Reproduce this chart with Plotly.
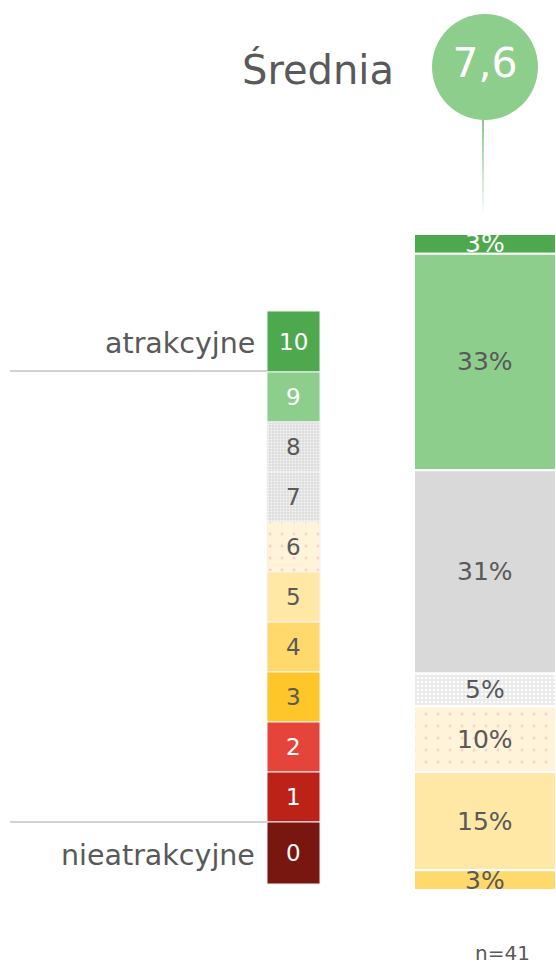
import plotly.graph_objects as go

# ---------------- data ----------------
scores = [10, 9, 8, 7, 6, 5, 4, 3, 2, 1, 0]
shares = [3, 33, 31, 5, 10, 15, 3, 0, 0, 0, 0]
n_resp = 41
mean_label = "Średnia"
top_label = "atrakcyjne"
bottom_label = "nieatrakcyjne"

# ---------------- styles ----------------
colors = {10: "#4EA94E", 9: "#8DCE8D", 8: "#D9D9D9", 7: "#EAEAEA", 6: "#FFF3DA",
          5: "#FFE8A5", 4: "#FFD96B", 3: "#FFC62A", 2: "#E4443A", 1: "#BD2219", 0: "#781610"}
legend_colors = dict(colors)
legend_colors[8] = "#DDDDDD"
legend_colors[7] = "#DEDEDE"
bar_pattern = {7: ("#FFFFFF", 4, 0.3), 6: ("#F6D2C8", 12, 0.05)}
leg_pattern = {8: ("#F7F7F7", 3, 0.3), 7: ("#F7F7F7", 3, 0.3), 6: ("#F6D2C8", 12, 0.05)}
white_text = {10, 9, 2, 1, 0}
GREY = "#595959"
FONT = "DejaVu Sans"

W, H = 556, 967
# bar pixel geometry
BL, BR, BT, BB = 414, 556, 234, 890
ppx = BR - BL
ppy = (BB - BT) / 100.0
x_range = [-0.5 - BL / ppx, 0.5 + (W - BR) / ppx]
y_range = [-(H - BB) / ppy, 100 + BT / ppy]


def px_to_x(p):
    return -0.5 + (p - BL) / ppx


def py_to_y(p):
    return 100 - (p - BT) / ppy


def pattern_for(spec, bg):
    if spec is None:
        return dict(shape="")
    fg, size, sol = spec
    return dict(shape=".", fgcolor=fg, bgcolor=bg, size=size, solidity=sol,
                fillmode="replace")


fig = go.Figure()

# ---- main stacked bar ----
base_of = {}
acc = 0
for s, v in zip(reversed(scores), reversed(shares)):
    base_of[s] = acc
    acc += v

for s, v in zip(scores, shares):
    if v <= 0:
        continue
    fig.add_trace(go.Bar(
        x=[0], y=[v], base=[base_of[s]], width=1,
        marker=dict(color=colors[s], line=dict(color="white", width=2),
                    pattern=pattern_for(bar_pattern.get(s), colors[s])),
        hoverinfo="skip", showlegend=False,
    ))
    fig.add_annotation(x=0, y=base_of[s] + v / 2, xref="x", yref="y",
                       text=f"{v}%", showarrow=False,
                       font=dict(family=FONT, size=25,
                                 color="white" if s == 10 else GREY))

# ---- legend column (score scale) ----
LCX = px_to_x(293.5)
LW = 53 / ppx
cell_h = {s: (1.22 if s == 10 else 1.24 if s == 0 else 1.0) for s in scores}
leg_base = {}
acc = 0
for s in reversed(scores):
    leg_base[s] = acc
    acc += cell_h[s]
CELL = 50.0
LB = 884
y2_range = [-(H - LB) / CELL, LB / CELL]

for s in scores:
    fig.add_trace(go.Bar(
        x=[LCX], y=[cell_h[s]], base=[leg_base[s]], width=LW, yaxis="y2",
        marker=dict(color=legend_colors[s], line=dict(color="#F4F4F4", width=1),
                    pattern=pattern_for(leg_pattern.get(s), legend_colors[s])),
        hoverinfo="skip", showlegend=False,
    ))
    fig.add_annotation(x=LCX, y=leg_base[s] + cell_h[s] / 2, xref="x", yref="y2",
                       text=str(s), showarrow=False,
                       font=dict(family=FONT, size=23,
                                 color="white" if s in white_text else GREY))

# ---- mean bubble ----
mean_val = sum(s * v for s, v in zip(scores, shares)) / sum(shares)
mean_txt = f"{mean_val:.1f}".replace(".", ",")
CY = py_to_y(67)
fig.add_trace(go.Scatter(
    x=[0], y=[CY], mode="markers+text", text=[mean_txt],
    textposition="middle center",
    textfont=dict(family=FONT, size=41, color="white"),
    marker=dict(size=106, color="#8DCE8D", line=dict(width=0)),
    cliponaxis=False, hoverinfo="skip", showlegend=False,
))
# fading stem
y_top = py_to_y(120)
y_bot = py_to_y(212)
nseg = 14
for i in range(nseg):
    ya = y_top + (y_bot - y_top) * i / nseg
    yb = y_top + (y_bot - y_top) * (i + 1) / nseg
    op = 1 - i / nseg
    fig.add_shape(type="line", xref="x", yref="y", x0=px_to_x(483), x1=px_to_x(483),
                  y0=ya, y1=yb, line=dict(color=f"rgba(100,185,100,{op:.2f})", width=1.5))

fig.add_annotation(x=396 / W, y=1 - 70 / H, xref="paper", yref="paper",
                   xanchor="right", yanchor="middle", text=mean_label, showarrow=False,
                   font=dict(family=FONT, size=40, color=GREY))

# ---- side labels and guide lines ----
for lbl, ty, ly in [(top_label, 343, 371), (bottom_label, 855, 822)]:
    fig.add_annotation(x=257 / W, y=1 - ty / H, xref="paper", yref="paper",
                       xanchor="right", yanchor="middle", text=lbl, showarrow=False,
                       font=dict(family=FONT, size=28.5, color=GREY))
    fig.add_shape(type="line", xref="paper", yref="paper", x0=10 / W, x1=267 / W,
                  y0=1 - ly / H, y1=1 - ly / H, line=dict(color="#A6A6A6", width=1))

fig.add_annotation(x=502 / W, y=1 - 953 / H, xref="paper", yref="paper",
                   xanchor="center", yanchor="middle",
                   text=f"n={n_resp}", showarrow=False,
                   font=dict(family=FONT, size=20, color=GREY))

fig.update_layout(
    width=W, height=H, margin=dict(l=0, r=0, t=0, b=0),
    paper_bgcolor="white", plot_bgcolor="white", barmode="overlay",
    xaxis=dict(range=x_range, visible=False, fixedrange=True),
    yaxis=dict(range=y_range, visible=False, fixedrange=True),
    yaxis2=dict(range=y2_range, visible=False, overlaying="y", fixedrange=True),
)

fig.write_html("out.html", config={"displayModeBar": False},
               post_script="document.body.style.margin='0';document.body.style.overflow='hidden';")
